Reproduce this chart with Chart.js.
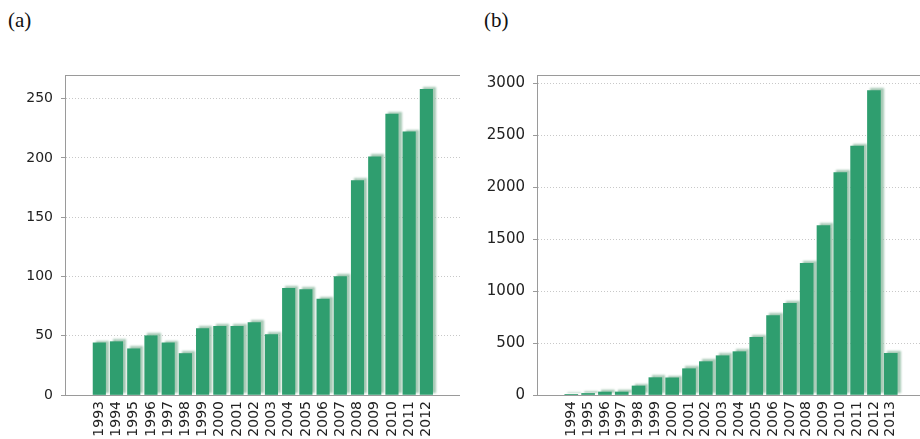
<!DOCTYPE html>
<html>
<head>
<meta charset="utf-8">
<script src="https://cdn.jsdelivr.net/npm/chart.js@4/dist/chart.umd.min.js"></script>
<style>
  html, body { margin: 0; padding: 0; background: #fff; }
  #wrap { position: relative; width: 920px; height: 439px; overflow: hidden; }
  .panel { position: absolute; top: 0; width: 460px; height: 439px; }
  .tag { position: absolute; top: 8px; font-family: "Liberation Serif", "Times New Roman", serif; font-size: 21px; color: #111; }
</style>
</head>
<body>
<div id="wrap">
  <div class="tag" style="left:8px;">(a)</div>
  <div class="tag" style="left:484px;">(b)</div>
  <div class="panel" style="left:0;"><canvas id="chartA" width="460" height="439"></canvas></div>
  <div class="panel" style="left:460px;"><canvas id="chartB" width="460" height="439"></canvas></div>
</div>
<script>
// Panel (a): yearly counts 1993-2012
const yearsA = ['1993','1994','1995','1996','1997','1998','1999','2000','2001','2002',
                '2003','2004','2005','2006','2007','2008','2009','2010','2011','2012'];
const valuesA = [44, 45, 39, 50, 44, 35, 56, 58, 58, 61,
                 51, 90, 89, 81, 100, 181, 201, 237, 222, 258];
const ticksA = [0, 50, 100, 150, 200, 250];

// Panel (b): yearly counts 1994-2013
const yearsB = ['1994','1995','1996','1997','1998','1999','2000','2001','2002','2003',
                '2004','2005','2006','2007','2008','2009','2010','2011','2012','2013'];
const valuesB = [3, 15, 29, 29, 87, 167, 165, 253, 321, 378,
                 417, 555, 764, 882, 1267, 1630, 2140, 2397, 2929, 401];
const ticksB = [0, 500, 1000, 1500, 2000, 2500, 3000];

const BAR = '#2f9e6f';
const FRAME = '#9a9a9a';
const FAMILY = '"DejaVu Sans", Verdana, sans-serif';

// soft offset shadow behind every bar
const barShadow = {
  id: 'barShadow',
  beforeDatasetsDraw(chart) {
    const ctx = chart.ctx;
    ctx.save();
    ctx.shadowColor = 'rgba(150,192,168,0.85)';
    ctx.shadowOffsetX = 3;
    ctx.shadowOffsetY = -2;
    ctx.shadowBlur = 2;
  },
  afterDatasetsDraw(chart) { chart.ctx.restore(); }
};

// top edge of the plot frame
const frameTop = {
  id: 'frameTop',
  afterDraw(chart) {
    const { ctx, chartArea: a } = chart;
    ctx.save();
    ctx.strokeStyle = FRAME;
    ctx.lineWidth = 1;
    ctx.beginPath();
    ctx.moveTo(a.left, a.top + 0.5);
    ctx.lineTo(a.right, a.top + 0.5);
    ctx.stroke();
    ctx.restore();
  }
};

function makeChart(id, years, values, ticks, yMax, axisWidth, xMin, xMax, barW, ySize, xSize) {
  const points = values.map((v, i) => ({ x: i, y: v }));
  return new Chart(document.getElementById(id), {
    type: 'bar',
    data: { datasets: [{ data: points, backgroundColor: BAR, borderWidth: 0, barThickness: barW }] },
    options: {
      responsive: false,
      animation: false,
      events: [],
      layout: { padding: { top: 75, right: 0, left: 0, bottom: 0 } },
      plugins: { legend: { display: false }, tooltip: { enabled: false } },
      scales: {
        x: {
          type: 'linear',
          min: xMin,
          max: xMax,
          afterBuildTicks(s) { s.ticks = years.map((_, i) => ({ value: i })); },
          afterFit(s) { s.height = 44; },
          grid: { display: false, drawTicks: false },
          border: { display: true, color: FRAME, width: 1 },
          ticks: {
            autoSkip: false,
            minRotation: 90,
            maxRotation: 90,
            padding: 6,
            color: '#222',
            font: { family: FAMILY, size: xSize },
            callback: (v) => years[v] ?? ''
          }
        },
        y: {
          min: 0,
          max: yMax,
          afterBuildTicks(s) { s.ticks = ticks.map(v => ({ value: v })); },
          afterFit(s) { s.width = axisWidth; },
          grid: {
            color: '#c8c8c8',
            lineWidth: 1,
            tickLength: 4,
            tickColor: FRAME,
            drawOnChartArea: true
          },
          border: { display: true, color: FRAME, width: 1, dash: [1, 2] },
          ticks: {
            padding: 8,
            color: '#222',
            font: { family: FAMILY, size: ySize },
            callback: (v) => String(v)
          }
        }
      }
    },
    plugins: [barShadow, frameTop]
  });
}

makeChart('chartA', yearsA, valuesA, ticksA, 270, 65, -1.42, 20.38, 12.5, 14, 14);
makeChart('chartB', yearsB, valuesB, ticksB, 3080, 77, -1.47, 20.17, 13, 15, 14);
</script>
</body>
</html>
